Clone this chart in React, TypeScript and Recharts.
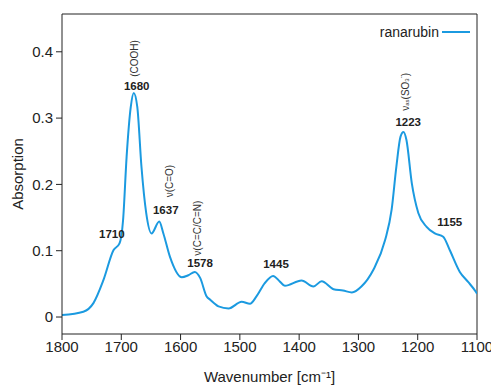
import React from 'react';

import { Legend, Line, LineChart, ReferenceDot, ReferenceLine, XAxis, YAxis } from 'recharts';

// wavenumber (cm-1)
const wavenumbers = [
  1800, 1764, 1747, 1730, 1713, 1703, 1697, 1691, 1684, 1679, 1673, 1666, 1658, 1649, 1636, 1629, 1618, 1598,
  1587, 1576, 1567, 1556, 1550, 1536, 1519, 1497, 1483, 1472, 1458, 1444, 1432, 1424, 1396, 1376, 1362, 1342,
  1326, 1311, 1295, 1275, 1255, 1244, 1236, 1229, 1224, 1219, 1210, 1199, 1185, 1171, 1157, 1146, 1129, 1115,
  1102, 1100,
];

// absorption of ranarubin
const ranarubin = [
  0.003, 0.008, 0.021, 0.056, 0.101, 0.111, 0.146, 0.242, 0.317, 0.338, 0.317, 0.227, 0.157, 0.126, 0.144,
  0.126, 0.091, 0.06, 0.063, 0.068, 0.059, 0.031, 0.026, 0.016, 0.013, 0.023, 0.02, 0.031, 0.051, 0.062, 0.053,
  0.047, 0.055, 0.046, 0.054, 0.042, 0.04, 0.037, 0.046, 0.071, 0.116, 0.162, 0.227, 0.272, 0.279, 0.267,
  0.202, 0.157, 0.136, 0.126, 0.121, 0.101, 0.068, 0.053, 0.038, 0.035,
];

const xTicks = [1800, 1700, 1600, 1500, 1400, 1300, 1200, 1100];
const yTicks = [0, 0.1, 0.2, 0.3, 0.4];
const yDomain = [-0.0256, 0.457];

// peak labels (bold numbers) anchored in data coordinates
const peakNames = ['1710', '1680', '1637', '1578', '1445', '1223', '1155'];
const peakX = [1716, 1674, 1625, 1567, 1439, 1216, 1146];
const peakY = [0.125, 0.349, 0.1615, 0.0815, 0.08, 0.294, 0.143];

// vibration mode labels (rotated)
const modeNames = ['(COOH)', 'ν(C=O)', 'ν(C=C/C=N)', 'SO3'];
const modeX = [1677, 1618, 1572, 1221];
const modeY = [0.39, 0.205, 0.134, 0.3396];

const data = wavenumbers.map((wn, i) => ({ wn, abs: ranarubin[i] }));

const blue = '#1b9ae0';
const font = '"Liberation Sans", Arial, sans-serif';

const modeLabel = (name: string) => (props: any) => {
  const { x, y } = props.viewBox;
  if (name === 'SO3') {
    return (
      <text
        transform={`translate(${x},${y}) rotate(-90)`}
        textAnchor="middle"
        dominantBaseline="central"
        fontSize={10}
        fill="#333"
        fontFamily={font}
      >
        ν
        <tspan fontSize={6} dy={2}>
          as
        </tspan>
        <tspan dy={-2}>(SO</tspan>
        <tspan fontSize={6} dy={2}>
          3
        </tspan>
        <tspan fontSize={6} dy={-6}>
          -
        </tspan>
        <tspan dy={4}>)</tspan>
      </text>
    );
  }
  return (
    <text
      transform={`translate(${x},${y}) rotate(-90)`}
      textAnchor="middle"
      dominantBaseline="central"
      fontSize={10}
      fill="#333"
      fontFamily={font}
    >
      {name}
    </text>
  );
};

const peakLabel = (name: string) => (props: any) => {
  const { x, y } = props.viewBox;
  return (
    <text
      x={x}
      y={y}
      textAnchor="middle"
      dominantBaseline="central"
      fontSize={11.5}
      fontWeight="bold"
      fill="#222"
      fontFamily={font}
    >
      {name}
    </text>
  );
};

const renderLegend = () => (
  <div style={{ display: 'flex', alignItems: 'center', fontFamily: font, fontSize: 14, color: '#222' }}>
    <span>ranarubin</span>
    <span style={{ display: 'inline-block', width: 28, height: 2, background: blue, marginLeft: 3 }} />
  </div>
);

const App = () => {
  return (
    <div style={{ position: 'absolute', left: 0, top: 0, width: 491, height: 386, background: '#fff' }}>
      <LineChart width={491} height={386} data={data} margin={{ top: 14, right: 14, left: 0, bottom: 0 }}>
        <XAxis
          dataKey="wn"
          type="number"
          domain={[1100, 1800]}
          reversed
          ticks={xTicks}
          interval={0}
          height={52}
          stroke="#222"
          tick={{ fontSize: 15, fill: '#222', fontFamily: font }}
          tickSize={6}
          tickMargin={1}
          allowDataOverflow
          label={{
            value: 'Wavenumber [cm⁻¹]',
            position: 'insideBottom',
            offset: 4,
            style: { fontSize: 15, fill: '#222', fontFamily: font },
          }}
        />
        <YAxis
          domain={yDomain}
          ticks={yTicks}
          interval={0}
          width={62}
          stroke="#222"
          allowDataOverflow
          tick={{ fontSize: 15, fill: '#222', fontFamily: font }}
          tickSize={6}
          tickMargin={3}
          tickFormatter={(v: number) => (v === 0 ? '0' : v.toFixed(1))}
          label={{
            value: 'Absorption',
            angle: -90,
            position: 'insideLeft',
            offset: 18,
            style: { fontSize: 15, fill: '#222', fontFamily: font, textAnchor: 'middle' },
          }}
        />
        {/* box frame: top and right edges */}
        <ReferenceLine y={yDomain[1]} stroke="#222" strokeWidth={1} />
        <ReferenceLine x={1100} stroke="#222" strokeWidth={1} />
        <Legend
          layout="horizontal"
          verticalAlign="middle"
          align="center"
          content={renderLegend}
          wrapperStyle={{ top: 24, right: 21, left: 'auto', width: 'auto' }}
        />
        <Line
          type="monotone"
          dataKey="abs"
          stroke={blue}
          strokeWidth={2}
          dot={false}
          isAnimationActive={false}
          name="ranarubin"
        />
        {peakNames.map((name, i) => (
          <ReferenceDot key={name} x={peakX[i]} y={peakY[i]} r={0} stroke="none" fill="none" label={peakLabel(name)} />
        ))}
        {modeNames.map((name, i) => (
          <ReferenceDot key={name} x={modeX[i]} y={modeY[i]} r={0} stroke="none" fill="none" label={modeLabel(name)} />
        ))}
      </LineChart>
    </div>
  );
};

export default App;
